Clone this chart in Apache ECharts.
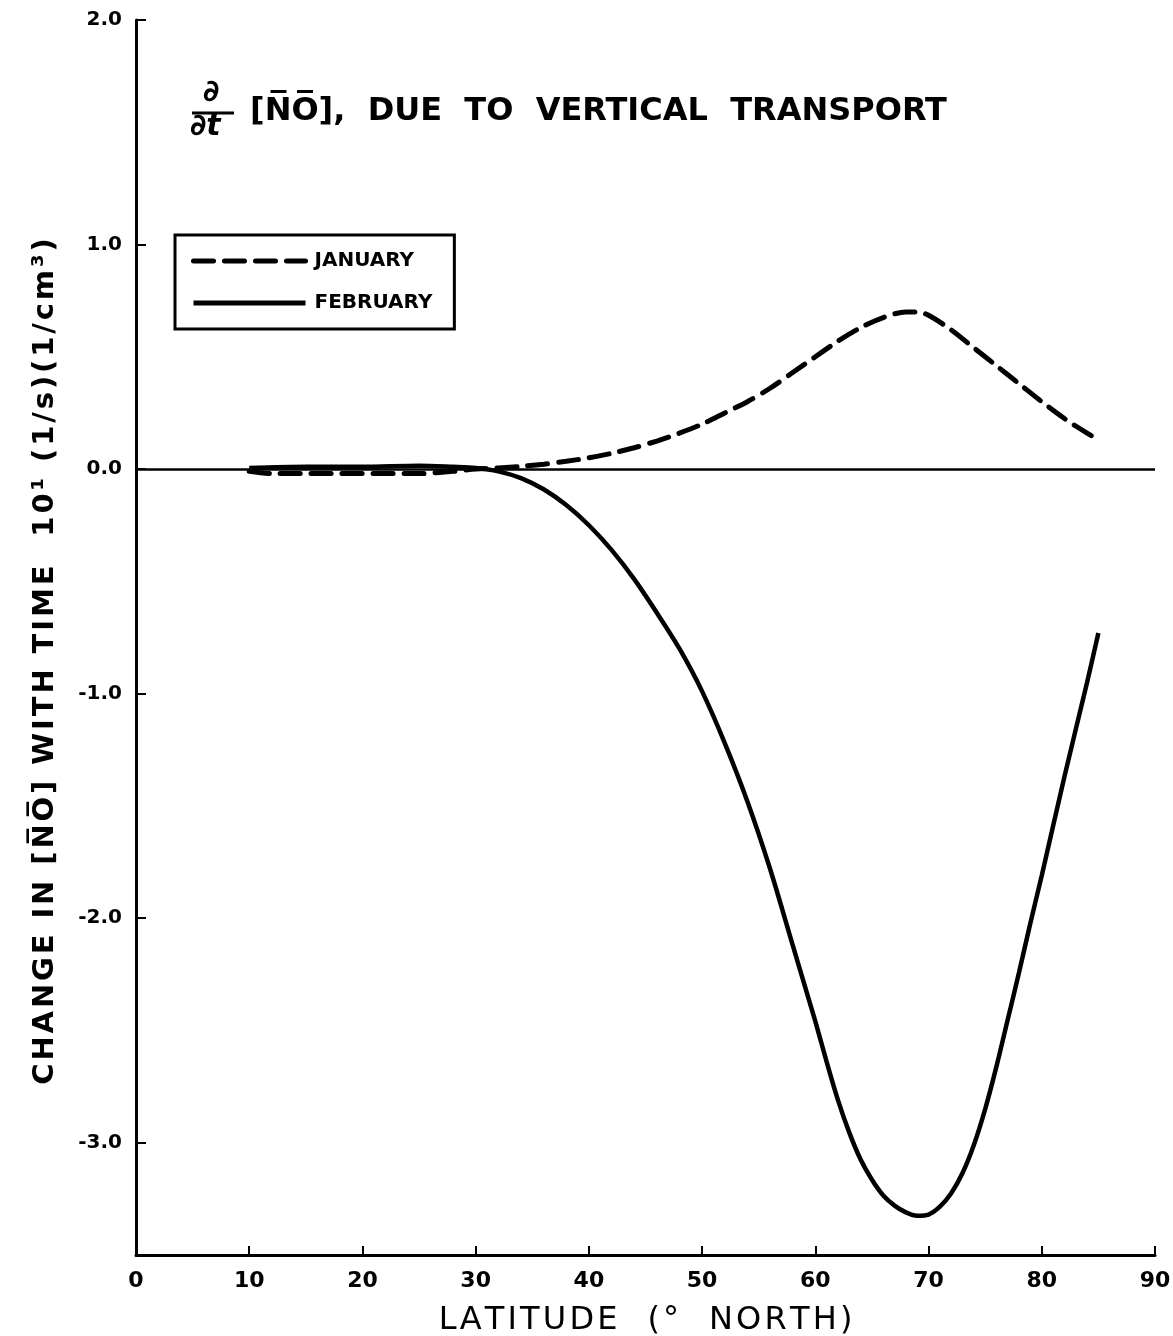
<!DOCTYPE html>
<html>
<head>
<meta charset="utf-8">
<script src="https://cdn.jsdelivr.net/npm/echarts@6/dist/echarts.min.js"></script>
<style>
html,body{margin:0;padding:0;background:#fff;}
#chart{width:1173px;height:1336px;}
</style>
</head>
<body>
<div id="chart"></div>
<script>
// ---- data ----
const janLat = [10,12,15,18,20,22,25,28,30,32,34,36,38,40,42,44,46,48,50,52,54,56,58,60,62,64,66,68,69,70,72,74,76,78,80,82,84,85];
const janVal = [-0.01,-0.02,-0.02,-0.02,-0.02,-0.02,-0.02,-0.01,0,0.005,0.012,0.022,0.035,0.05,0.07,0.095,0.125,0.16,0.20,0.25,0.30,0.36,0.43,0.50,0.57,0.63,0.675,0.70,0.70,0.685,0.62,0.54,0.46,0.38,0.30,0.225,0.16,0.13];
const febLat = [10,15,20,25,28,30,32,34,36,38,40,42,44,46,48,50,52,54,56,58,60,61,62,63,64,65,66,67,68,69,70,71,72,73,74,75,76,77,78,79,80,82,84,85];
const febVal = [0.005,0.01,0.01,0.015,0.01,0.005,-0.01,-0.04,-0.09,-0.16,-0.25,-0.36,-0.49,-0.64,-0.80,-0.99,-1.22,-1.48,-1.78,-2.12,-2.46,-2.64,-2.81,-2.955,-3.075,-3.165,-3.235,-3.28,-3.31,-3.325,-3.32,-3.285,-3.225,-3.135,-3.01,-2.85,-2.66,-2.45,-2.24,-2.02,-1.81,-1.37,-0.95,-0.73];
const yTickValues = [-3,-2,-1,0,1,2];
const xTickValues = [0,10,20,30,40,50,60,70,80,90];
const seriesNames = ['JANUARY','FEBRUARY'];

const FONT = '"DejaVu Sans", "Liberation Sans", sans-serif';
const HS = '\u200A';
const spaced = s => s.split('').join(HS);
const pairs = (xs, ys) => xs.map((x, i) => [x, ys[i]]);

const chart = echarts.init(document.getElementById('chart'));
chart.setOption({
  animation: false,
  backgroundColor: '#fff',
  grid: {left: 136, right: 18, top: 20, bottom: 81, containLabel: false, outerBoundsMode: 'none'},
  legend: {
    orient: 'vertical',
    left: 175, top: 235,
    padding: [16, 22, 16, 16],
    itemGap: 22,
    itemWidth: 112,
    itemHeight: 14,
    borderColor: '#000',
    borderWidth: 3,
    data: seriesNames,
    itemStyle: {opacity: 0},
    lineStyle: {width: 5},
    textStyle: {fontFamily: FONT, fontWeight: 'bold', fontSize: 20, color: '#000', padding: [0,0,0,4]}
  },
  xAxis: {
    type: 'value', min: 0, max: 90, interval: 10,
    name: spaced('LATITUDE  (°  NORTH)'),
    nameLocation: 'middle', nameGap: 50,
    nameTextStyle: {fontFamily: FONT, fontSize: 32, color: '#000'},
    axisLine: {show: true, onZero: false, lineStyle: {color: '#000', width: 3}},
    axisTick: {show: true, inside: true, length: 9, lineStyle: {color: '#000', width: 2}, customValues: xTickValues},
    axisLabel: {fontFamily: FONT, fontWeight: 'bold', fontSize: 22, color: '#000', margin: 15, customValues: xTickValues},
    splitLine: {show: false}
  },
  yAxis: {
    type: 'value', min: -3.5, max: 2, interval: 0.5,
    name: spaced('CHANGE IN [N\u0305O\u0305] WITH TIME  10\u00B9 (1/s)(1/cm\u00B3)').replace(/N\u200A\u0305/g,'N\u0305').replace(/O\u200A\u0305/g,'O\u0305'),
    nameLocation: 'middle', nameGap: 76, nameRotate: 90,
    nameTextStyle: {fontFamily: FONT, fontWeight: 'bold', fontSize: 29, color: '#000', padding: [0, 48, 0, 0]},
    axisLine: {show: true, onZero: false, lineStyle: {color: '#000', width: 3}},
    axisTick: {show: true, inside: true, length: 10, lineStyle: {color: '#000', width: 2}, customValues: yTickValues},
    axisLabel: {fontFamily: FONT, fontWeight: 'bold', fontSize: 20, color: '#000', margin: 14,
      customValues: yTickValues, formatter: v => v.toFixed(1)},
    splitLine: {show: false}
  },
  graphic: [
    {type: 'text', left: 203, top: 78, style: {text: '\u2202', font: 'bold 30px ' + FONT, fill: '#000'}},
    {type: 'line', shape: {x1: 192, y1: 113, x2: 234, y2: 113}, style: {stroke: '#000', lineWidth: 3}},
    {type: 'text', left: 190, top: 112, style: {text: '\u2202t', font: 'italic bold 30px ' + FONT, fill: '#000'}},
    {type: 'text', left: 250, top: 96, style: {text: '[N\u0305O\u0305],  DUE  TO  VERTICAL  TRANSPORT', font: 'bold 32px ' + FONT, fill: '#000'}}
  ],
  series: [
    {
      name: seriesNames[0], type: 'line', data: pairs(janLat, janVal),
      symbol: 'none', smooth: 0.3,
      lineStyle: {color: '#000', width: 5, type: [20, 11], cap: 'round'},
      itemStyle: {color: '#000'},
      z: 3
    },
    {
      name: seriesNames[1], type: 'line', data: pairs(febLat, febVal),
      symbol: 'none', smooth: 0.3,
      lineStyle: {color: '#000', width: 4.5, type: 'solid'},
      itemStyle: {color: '#000'},
      z: 3,
      markLine: {
        silent: true, symbol: 'none', label: {show: false},
        lineStyle: {color: '#000', width: 2.5, type: 'solid'},
        data: [{yAxis: 0}]
      }
    }
  ]
});
</script>
</body>
</html>
